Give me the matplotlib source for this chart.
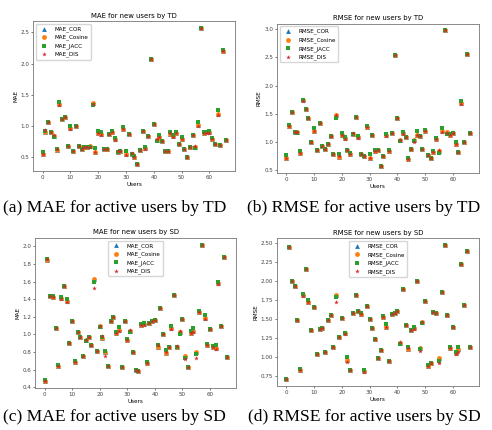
import matplotlib.pyplot as plt

# 缩小比例：原图是默认 6.4x4.8 英寸的图缩小后的样子
k = 0.41
plt.rcParams['font.family'] = ['DejaVu Sans']
plt.rcParams['font.size'] = 10 * k
plt.rcParams['axes.titlesize'] = 12 * k
plt.rcParams['axes.titlepad'] = 6 * k
plt.rcParams['axes.labelpad'] = 4 * k
plt.rcParams['axes.linewidth'] = 0.6
plt.rcParams['axes.edgecolor'] = '#777777'
plt.rcParams['xtick.major.size'] = 3.5 * k
plt.rcParams['ytick.major.size'] = 3.5 * k
plt.rcParams['xtick.major.pad'] = 3.5 * k
plt.rcParams['ytick.major.pad'] = 3.5 * k
plt.rcParams['xtick.major.width'] = 0.5
plt.rcParams['ytick.major.width'] = 0.5
plt.rcParams['xtick.color'] = '#444444'
plt.rcParams['ytick.color'] = '#444444'

users = list(range(67))

# (a) MAE by TD
mae_td_cor = [0.55, 0.91, 1.06, 0.91, 0.85, 0.62, 1.36, 1.11, 1.15, 0.68,
              0.97, 0.61, 1.00, 0.68, 0.63, 0.67, 0.66, 0.68, 1.37, 0.58,
              0.89, 0.87, 0.64, 0.64, 0.88, 0.91, 0.79, 0.59, 0.60, 0.96,
              0.55, 0.87, 0.56, 0.51, 0.39, 0.62, 0.92, 0.65, 0.84, 2.08,
              1.04, 0.78, 0.83, 0.76, 0.60, 0.60, 0.87, 0.84, 0.89, 0.72,
              0.80, 0.63, 0.51, 0.66, 0.86, 0.67, 1.02, 2.57, 0.89, 0.90,
              0.90, 0.80, 0.71, 1.19, 0.70, 2.20, 0.78]
mae_td_cos = [0.55, 0.91, 1.06, 0.91, 0.85, 0.62, 1.36, 1.11, 1.15, 0.68,
              0.97, 0.61, 1.00, 0.68, 0.63, 0.67, 0.66, 0.68, 1.37, 0.58,
              0.89, 0.87, 0.64, 0.64, 0.88, 0.91, 0.79, 0.59, 0.60, 0.96,
              0.55, 0.87, 0.56, 0.51, 0.39, 0.62, 0.92, 0.65, 0.84, 2.08,
              1.04, 0.78, 0.83, 0.76, 0.60, 0.60, 0.87, 0.84, 0.89, 0.72,
              0.80, 0.63, 0.51, 0.66, 0.86, 0.67, 1.02, 2.57, 0.89, 0.90,
              0.90, 0.80, 0.71, 1.19, 0.70, 2.20, 0.78]
mae_td_jacc = [0.59, 0.92, 1.06, 0.91, 0.83, 0.63, 1.38, 1.11, 1.15, 0.68,
               1.01, 0.61, 1.00, 0.68, 0.63, 0.67, 0.66, 0.66, 1.33, 0.65,
               0.92, 0.90, 0.64, 0.64, 0.88, 0.92, 0.81, 0.59, 0.60, 0.99,
               0.60, 0.87, 0.56, 0.52, 0.39, 0.62, 0.92, 0.66, 0.84, 2.08,
               1.04, 0.77, 0.86, 0.76, 0.60, 0.60, 0.90, 0.86, 0.90, 0.72,
               0.82, 0.63, 0.51, 0.66, 0.86, 0.65, 1.07, 2.57, 0.90, 0.91,
               0.92, 0.81, 0.71, 1.25, 0.70, 2.22, 0.78]
mae_td_dis = [0.55, 0.94, 1.06, 0.91, 0.86, 0.63, 1.34, 1.11, 1.15, 0.68,
              0.96, 0.61, 1.00, 0.68, 0.64, 0.67, 0.66, 0.67, 1.36, 0.58,
              0.89, 0.86, 0.64, 0.64, 0.88, 0.90, 0.78, 0.60, 0.60, 0.96,
              0.54, 0.87, 0.57, 0.50, 0.39, 0.62, 0.92, 0.64, 0.84, 2.08,
              1.04, 0.79, 0.82, 0.76, 0.60, 0.60, 0.89, 0.83, 0.89, 0.72,
              0.79, 0.63, 0.51, 0.66, 0.86, 0.69, 1.01, 2.57, 0.89, 0.89,
              0.89, 0.79, 0.71, 1.18, 0.70, 2.20, 0.78]

# (b) RMSE by TD
rmse_td_cor = [0.72, 1.28, 1.53, 1.18, 1.17, 0.80, 1.74, 1.59, 1.42, 0.99,
               1.20, 0.86, 1.34, 0.92, 0.88, 0.97, 1.10, 0.78, 1.47, 0.73,
               1.13, 1.06, 0.86, 0.79, 1.14, 1.44, 1.08, 0.79, 0.75, 1.26,
               0.72, 1.13, 0.84, 0.86, 0.57, 0.75, 1.12, 0.84, 1.16, 2.55,
               1.43, 1.03, 1.15, 1.08, 0.70, 0.88, 1.03, 1.13, 1.10, 0.88,
               1.19, 0.77, 0.72, 0.82, 1.05, 0.84, 1.19, 2.98, 1.17, 1.13,
               1.15, 0.97, 0.82, 1.69, 1.00, 2.56, 1.16]
rmse_td_cos = [0.72, 1.28, 1.53, 1.18, 1.17, 0.80, 1.74, 1.59, 1.42, 0.99,
               1.20, 0.86, 1.34, 0.92, 0.88, 0.97, 1.10, 0.78, 1.47, 0.73,
               1.13, 1.06, 0.86, 0.79, 1.14, 1.44, 1.08, 0.79, 0.75, 1.26,
               0.72, 1.13, 0.84, 0.86, 0.57, 0.75, 1.12, 0.84, 1.16, 2.55,
               1.43, 1.03, 1.15, 1.08, 0.70, 0.88, 1.03, 1.13, 1.10, 0.88,
               1.19, 0.77, 0.72, 0.82, 1.05, 0.84, 1.19, 2.98, 1.17, 1.13,
               1.15, 0.97, 0.82, 1.69, 1.00, 2.56, 1.16]
rmse_td_jacc = [0.76, 1.30, 1.53, 1.18, 1.16, 0.83, 1.74, 1.59, 1.42, 0.99,
                1.24, 0.86, 1.34, 0.92, 0.88, 0.97, 1.10, 0.79, 1.43, 0.78,
                1.16, 1.09, 0.86, 0.81, 1.14, 1.44, 1.11, 0.79, 0.75, 1.29,
                0.78, 1.13, 0.85, 0.86, 0.58, 0.75, 1.14, 0.85, 1.16, 2.55,
                1.43, 1.01, 1.17, 1.08, 0.71, 0.88, 1.02, 1.19, 1.11, 0.88,
                1.21, 0.77, 0.72, 0.83, 1.06, 0.81, 1.25, 2.98, 1.14, 1.14,
                1.15, 0.99, 0.82, 1.72, 1.00, 2.57, 1.16]
rmse_td_dis = [0.72, 1.29, 1.53, 1.18, 1.17, 0.81, 1.73, 1.59, 1.42, 0.99,
               1.20, 0.86, 1.34, 0.92, 0.88, 0.97, 1.10, 0.78, 1.48, 0.75,
               1.13, 1.05, 0.86, 0.79, 1.15, 1.44, 1.07, 0.79, 0.75, 1.26,
               0.72, 1.13, 0.84, 0.85, 0.57, 0.75, 1.11, 0.84, 1.16, 2.55,
               1.43, 1.04, 1.14, 1.08, 0.70, 0.88, 1.00, 1.12, 1.10, 0.88,
               1.19, 0.77, 0.72, 0.82, 1.05, 0.86, 1.18, 2.98, 1.16, 1.13,
               1.15, 0.96, 0.82, 1.68, 1.00, 2.56, 1.16]

# (c) MAE by SD
mae_sd_cor = [0.47, 1.85, 1.44, 1.43, 1.07, 0.64, 1.41, 1.55, 1.38, 0.90,
              1.15, 0.69, 1.03, 0.97, 0.75, 0.94, 0.97, 0.88, 1.63, 0.81,
              1.09, 0.96, 0.80, 0.64, 1.15, 1.20, 1.02, 1.05, 0.63, 1.15,
              0.94, 1.04, 0.80, 0.60, 0.58, 1.11, 1.12, 0.68, 1.13, 1.15,
              1.16, 0.86, 1.30, 1.00, 0.79, 0.86, 1.07, 1.45, 0.86, 1.03,
              1.18, 0.75, 0.63, 1.02, 1.04, 0.80, 1.25, 2.02, 1.19, 0.88,
              1.06, 0.86, 0.85, 1.58, 1.10, 1.88, 0.74]
mae_sd_cos = [0.47, 1.85, 1.44, 1.43, 1.07, 0.64, 1.41, 1.55, 1.38, 0.90,
              1.15, 0.69, 1.03, 0.97, 0.75, 0.94, 0.97, 0.88, 1.63, 0.81,
              1.09, 0.96, 0.80, 0.64, 1.15, 1.20, 1.02, 1.05, 0.63, 1.15,
              0.94, 1.04, 0.80, 0.60, 0.58, 1.11, 1.12, 0.68, 1.13, 1.15,
              1.16, 0.86, 1.30, 1.00, 0.79, 0.86, 1.07, 1.45, 0.86, 1.03,
              1.18, 0.75, 0.63, 1.02, 1.04, 0.80, 1.25, 2.02, 1.19, 0.88,
              1.06, 0.86, 0.85, 1.58, 1.10, 1.88, 0.74]
mae_sd_jacc = [0.48, 1.86, 1.44, 1.44, 1.07, 0.65, 1.42, 1.55, 1.40, 0.90,
               1.15, 0.70, 1.03, 0.97, 0.75, 0.93, 0.97, 0.88, 1.60, 0.81,
               1.08, 0.97, 0.81, 0.64, 1.15, 1.20, 1.03, 1.08, 0.63, 1.15,
               0.95, 1.03, 0.80, 0.60, 0.58, 1.12, 1.13, 0.69, 1.13, 1.15,
               1.16, 0.88, 1.30, 1.01, 0.82, 0.86, 1.09, 1.45, 0.86, 1.01,
               1.18, 0.73, 0.63, 1.04, 1.07, 0.78, 1.27, 2.02, 1.22, 0.89,
               1.06, 0.87, 0.88, 1.60, 1.10, 1.88, 0.74]
mae_sd_dis = [0.47, 1.86, 1.44, 1.43, 1.07, 0.64, 1.40, 1.55, 1.37, 0.90,
              1.15, 0.69, 1.03, 0.97, 0.75, 0.94, 0.97, 0.88, 1.53, 0.81,
              1.09, 0.98, 0.75, 0.64, 1.15, 1.20, 1.02, 1.04, 0.63, 1.15,
              0.94, 1.05, 0.80, 0.60, 0.58, 1.11, 1.11, 0.67, 1.13, 1.15,
              1.16, 0.88, 1.30, 1.00, 0.80, 0.86, 1.06, 1.45, 0.87, 1.04,
              1.18, 0.72, 0.63, 1.02, 1.03, 0.73, 1.25, 2.02, 1.17, 0.88,
              1.06, 0.86, 0.83, 1.57, 1.10, 1.88, 0.74]

# (d) RMSE by SD
rmse_sd_cor = [0.70, 2.45, 2.00, 1.94, 1.48, 0.82, 1.82, 2.16, 1.73, 1.35,
               1.66, 1.04, 1.37, 1.38, 1.06, 1.48, 1.55, 1.13, 1.82, 1.26,
               1.51, 1.31, 0.96, 0.83, 1.58, 1.82, 1.60, 1.57, 0.81, 1.67,
               1.50, 1.38, 1.24, 0.99, 1.09, 1.53, 1.40, 0.94, 1.56, 1.58,
               1.60, 1.18, 1.90, 1.42, 1.10, 1.35, 1.38, 2.00, 1.12, 1.46,
               1.74, 0.88, 0.92, 1.59, 1.58, 0.98, 1.86, 2.48, 1.55, 1.12,
               1.40, 1.05, 1.10, 2.23, 1.69, 2.40, 1.13]
rmse_sd_cos = [0.70, 2.45, 2.00, 1.94, 1.48, 0.82, 1.82, 2.16, 1.73, 1.35,
               1.66, 1.04, 1.37, 1.38, 1.06, 1.48, 1.55, 1.13, 1.82, 1.26,
               1.51, 1.31, 0.96, 0.83, 1.58, 1.82, 1.60, 1.57, 0.81, 1.67,
               1.50, 1.38, 1.24, 0.99, 1.09, 1.53, 1.40, 0.94, 1.56, 1.58,
               1.60, 1.18, 1.90, 1.42, 1.10, 1.35, 1.38, 2.00, 1.12, 1.46,
               1.74, 0.88, 0.92, 1.59, 1.58, 0.98, 1.86, 2.48, 1.55, 1.12,
               1.40, 1.05, 1.10, 2.23, 1.69, 2.40, 1.13]
rmse_sd_jacc = [0.70, 2.45, 2.00, 1.94, 1.48, 0.84, 1.83, 2.16, 1.75, 1.35,
                1.66, 1.04, 1.37, 1.38, 1.06, 1.48, 1.55, 1.13, 1.79, 1.26,
                1.51, 1.32, 1.00, 0.83, 1.58, 1.82, 1.60, 1.58, 0.82, 1.67,
                1.50, 1.38, 1.24, 0.99, 1.09, 1.54, 1.43, 0.94, 1.56, 1.58,
                1.60, 1.17, 1.90, 1.42, 1.13, 1.35, 1.39, 2.00, 1.10, 1.45,
                1.74, 0.89, 0.92, 1.59, 1.58, 0.95, 1.86, 2.48, 1.55, 1.13,
                1.40, 1.06, 1.13, 2.23, 1.69, 2.40, 1.13]
rmse_sd_dis = [0.70, 2.45, 2.00, 1.94, 1.48, 0.83, 1.80, 2.16, 1.72, 1.35,
               1.66, 1.04, 1.37, 1.38, 1.06, 1.48, 1.55, 1.13, 1.73, 1.26,
               1.51, 1.30, 0.93, 0.83, 1.58, 1.82, 1.60, 1.56, 0.80, 1.67,
               1.50, 1.38, 1.24, 0.99, 1.09, 1.53, 1.39, 0.94, 1.56, 1.58,
               1.60, 1.19, 1.90, 1.42, 1.11, 1.35, 1.37, 2.00, 1.08, 1.46,
               1.74, 0.88, 0.92, 1.59, 1.58, 0.92, 1.86, 2.48, 1.55, 1.12,
               1.40, 1.03, 1.06, 2.23, 1.69, 2.40, 1.13]

names = ['COR', 'Cosine', 'JACC', 'DIS']
markers = ['^', 'o', 's', '*']
colors = ['tab:blue', 'tab:orange', 'tab:green', 'tab:red']

fig = plt.figure(figsize=(4.92, 4.30), dpi=100)

# 每个子图: [left, bottom, width, height], 数据, 指标名, 标题, 图例位置, 说明文字
panels = [
    ([0.068, 0.602, 0.410, 0.349], [mae_td_cor, mae_td_cos, mae_td_jacc, mae_td_dis],
     'MAE', 'MAE for new users by TD', 'upper left', '(a) MAE for active users by TD'),
    ([0.563, 0.598, 0.410, 0.347], [rmse_td_cor, rmse_td_cos, rmse_td_jacc, rmse_td_dis],
     'RMSE', 'RMSE for new users by TD', 'upper left', '(b) RMSE for active users by TD'),
    ([0.072, 0.098, 0.407, 0.349], [mae_sd_cor, mae_sd_cos, mae_sd_jacc, mae_sd_dis],
     'MAE', 'MAE for new users by SD', 'upper center', '(c) MAE for active users by SD'),
    ([0.563, 0.102, 0.410, 0.344], [rmse_sd_cor, rmse_sd_cos, rmse_sd_jacc, rmse_sd_dis],
     'RMSE', 'RMSE for new users by SD', 'upper center', '(d) RMSE for active users by SD'),
]

for rect, series, metric, title, loc, caption in panels:
    ax = fig.add_axes(rect)
    for vals, name, m, c in zip(series, names, markers, colors):
        ax.scatter(users, vals, marker=m, color=c, s=12, linewidths=0,
                   label=metric + '_' + name)
    ax.set_title(title)
    ax.set_xlabel('Users')
    ax.set_ylabel(metric)
    ax.legend(loc=loc, fontsize=10 * k, borderpad=0.4, labelspacing=0.5,
              handletextpad=0.8, borderaxespad=0.5, framealpha=0.8,
              edgecolor='#cccccc')

# 子图下方的说明文字（左对齐）
cap_x = [3 / 492, 247 / 492, 3 / 492, 248 / 492]
cap_y = [0.517, 0.517, 0.030, 0.030]
for (rect, series, metric, title, loc, caption), cx, cy in zip(panels, cap_x, cap_y):
    fig.text(cx, cy, caption, ha='left', va='center',
             family='Liberation Serif', fontsize=12.6)

fig.savefig('out.png', dpi=100)
